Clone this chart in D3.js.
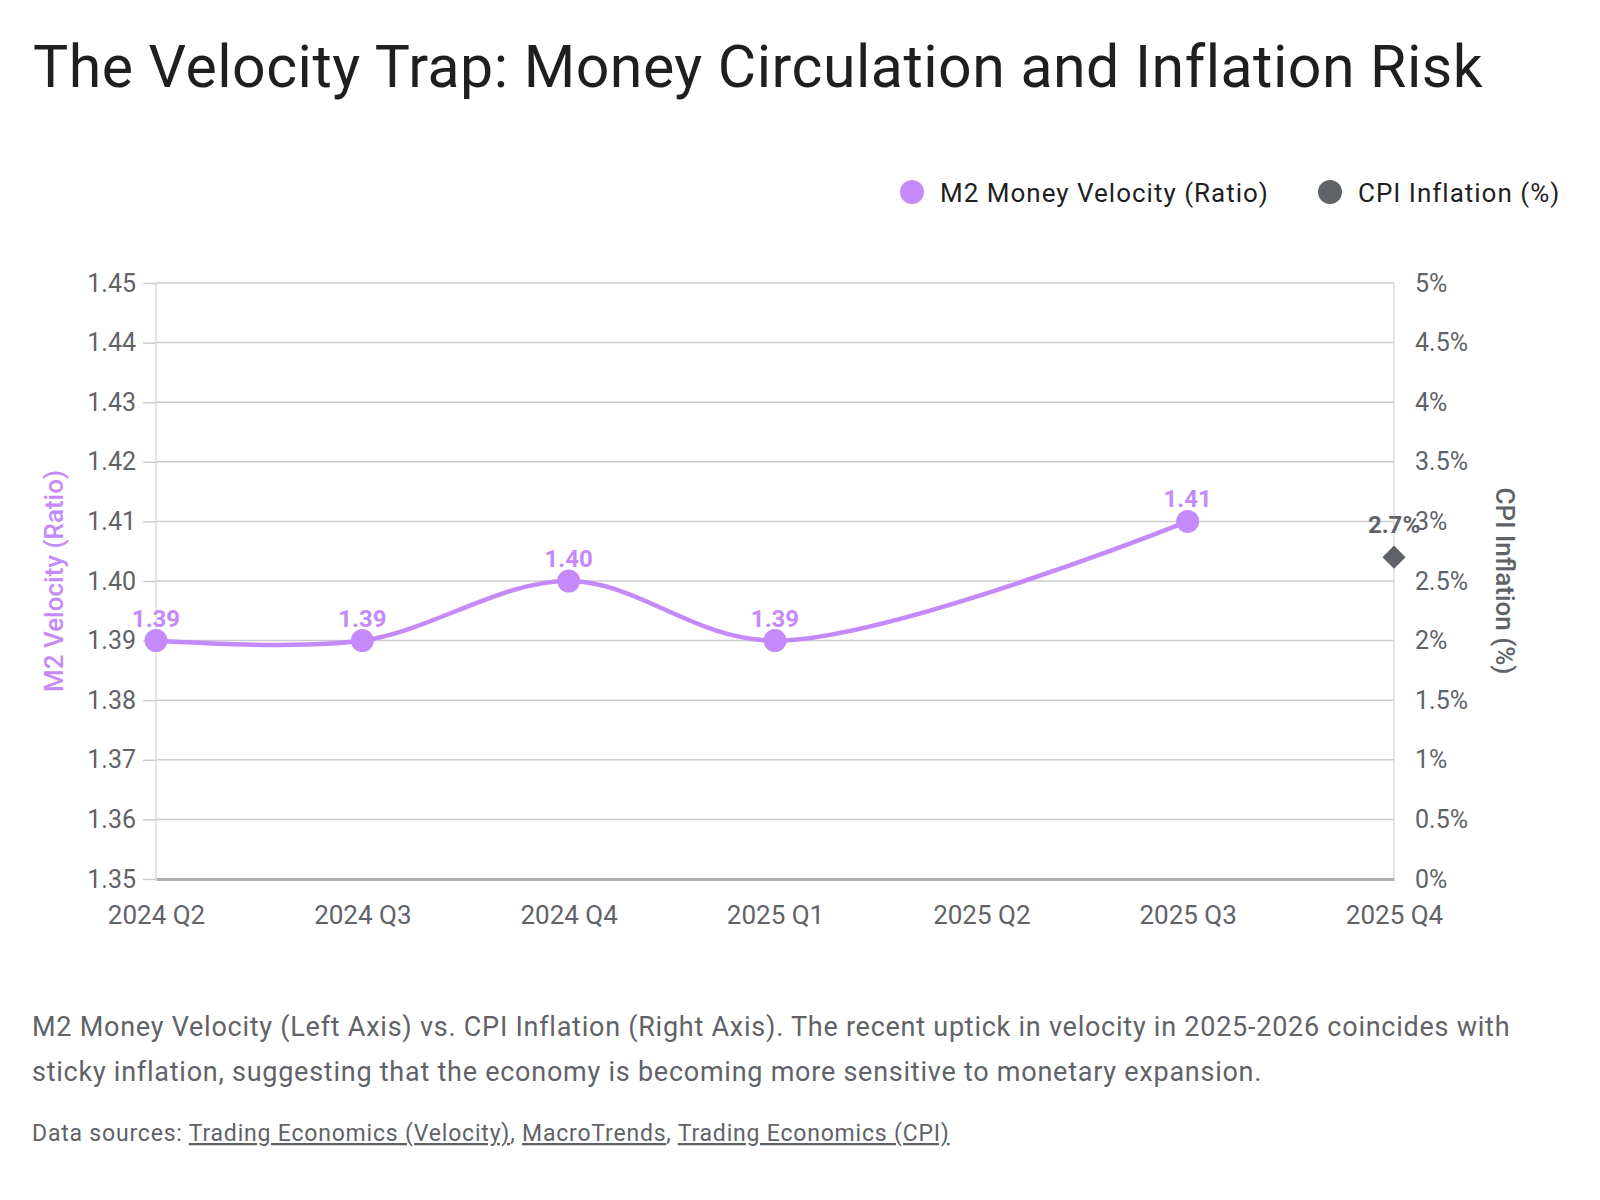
<!DOCTYPE html>
<html>
<head>
<meta charset="utf-8">
<script src="https://cdn.jsdelivr.net/npm/d3@7"></script>
<style>
  body { margin: 0; background: #fff; }
  text { font-family: Roboto, "Open Sans", sans-serif; }
</style>
</head>
<body>
<div id="chart"></div>
<script>
// data
const quarters = ["2024 Q2", "2024 Q3", "2024 Q4", "2025 Q1", "2025 Q2", "2025 Q3", "2025 Q4"];
const velocity = [1.39, 1.39, 1.40, 1.39, null, 1.41, null];
const cpi = [null, null, null, null, null, null, 2.7];
const leftTicks = [1.35, 1.36, 1.37, 1.38, 1.39, 1.40, 1.41, 1.42, 1.43, 1.44, 1.45];
const rightTicks = [0, 0.5, 1, 1.5, 2, 2.5, 3, 3.5, 4, 4.5, 5];

document.addEventListener('DOMContentLoaded', function() {
    const width = 1600, height = 1200;
    const plot = { left: 156, right: 1394, top: 283, bottom: 879 };
    const purple = "#c58af9", grey = "#5f6368";

    const svg = d3.select('#chart').append('svg')
        .attr('width', width)
        .attr('height', height);

    // title
    svg.append("text")
        .attr("x", 33)
        .attr("y", 87)
        .style("font-size", "59px")
        .style("letter-spacing", "0.5px")
        .style("fill", "#1f1f1f")
        .text("The Velocity Trap: Money Circulation and Inflation Risk");

    const x = d3.scalePoint().domain(quarters).range([plot.left, plot.right]);
    const yL = d3.scaleLinear().domain([1.35, 1.45]).range([plot.bottom, plot.top]);
    const yR = d3.scaleLinear().domain([0, 5]).range([plot.bottom, plot.top]);

    // gridlines
    svg.append("g").selectAll("line")
        .data(leftTicks.slice(1))
        .enter().append("line")
        .attr("x1", plot.left).attr("x2", plot.right)
        .attr("y1", d => yL(d)).attr("y2", d => yL(d))
        .attr("stroke", "#cccccc").attr("stroke-width", 1.5);

    // vertical edges
    [plot.left, plot.right].forEach(px => {
        svg.append("line")
            .attr("x1", px).attr("x2", px)
            .attr("y1", plot.top).attr("y2", plot.bottom)
            .attr("stroke", "#dddddd").attr("stroke-width", 1.5);
    });

    // left axis
    const leftAxis = svg.append("g")
        .attr("transform", `translate(${plot.left},0)`)
        .call(d3.axisLeft(yL).tickValues(leftTicks).tickFormat(d3.format(".2f")).tickSize(13).tickPadding(7));
    leftAxis.select(".domain").remove();
    leftAxis.selectAll(".tick line").attr("stroke", "#cccccc").attr("stroke-width", 1.5);
    leftAxis.selectAll(".tick text").style("font-size", "25px").style("fill", grey).style("font-family", "Roboto");

    // right axis
    const rightAxis = svg.append("g")
        .attr("transform", `translate(${plot.right},0)`)
        .call(d3.axisRight(yR).tickValues(rightTicks).tickFormat(d => d + "%").tickSize(0).tickPadding(21));
    rightAxis.select(".domain").remove();
    rightAxis.selectAll(".tick text").style("font-size", "25px").style("fill", grey).style("font-family", "Roboto");

    // bottom axis
    const bottomAxis = svg.append("g")
        .attr("transform", `translate(0,${plot.bottom})`)
        .call(d3.axisBottom(x).tickSize(0).tickPadding(27));
    bottomAxis.select(".domain").attr("stroke", "#b0b0b0").attr("stroke-width", 3);
    bottomAxis.selectAll(".tick text").style("font-size", "26px").style("fill", grey).style("font-family", "Roboto");

    // axis titles
    svg.append("text")
        .attr("transform", `translate(63,${(plot.top + plot.bottom) / 2}) rotate(-90)`)
        .attr("text-anchor", "middle")
        .style("font-size", "26px").style("font-weight", 500)
        .style("fill", purple)
        .text("M2 Velocity (Ratio)");
    svg.append("text")
        .attr("transform", `translate(1496,${(plot.top + plot.bottom) / 2}) rotate(90)`)
        .attr("text-anchor", "middle")
        .style("font-size", "26px").style("font-weight", 500)
        .style("fill", grey)
        .text("CPI Inflation (%)");

    // velocity line (gaps spanned)
    const vPoints = quarters.map((q, i) => ({ q: q, v: velocity[i] })).filter(d => d.v !== null);
    svg.append("path")
        .datum(vPoints)
        .attr("fill", "none")
        .attr("stroke", purple)
        .attr("stroke-width", 4.5)
        .attr("d", d3.line().x(d => x(d.q)).y(d => yL(d.v)).curve(d3.curveCatmullRom.alpha(0.5)));

    svg.selectAll(".vdot")
        .data(vPoints)
        .enter().append("circle")
        .attr("class", "vdot")
        .attr("cx", d => x(d.q))
        .attr("cy", d => yL(d.v))
        .attr("r", 11.5)
        .attr("fill", purple);

    svg.selectAll(".vlabel")
        .data(vPoints)
        .enter().append("text")
        .attr("class", "vlabel")
        .attr("x", d => x(d.q))
        .attr("y", d => yL(d.v) - 14)
        .attr("text-anchor", "middle")
        .style("font-size", "24px").style("font-weight", "bold")
        .style("fill", purple)
        .text(d => d.v.toFixed(2));

    // CPI point
    const cPoints = quarters.map((q, i) => ({ q: q, v: cpi[i] })).filter(d => d.v !== null);
    svg.selectAll(".cdot")
        .data(cPoints)
        .enter().append("path")
        .attr("class", "cdot")
        .attr("transform", d => `translate(${x(d.q)},${yR(d.v)})`)
        .attr("d", d3.symbol().type(d3.symbolDiamond2).size(340))
        .attr("fill", grey);
    svg.selectAll(".clabel")
        .data(cPoints)
        .enter().append("text")
        .attr("class", "clabel")
        .attr("x", d => x(d.q))
        .attr("y", d => yR(d.v) - 24)
        .attr("text-anchor", "middle")
        .style("font-size", "24px").style("font-weight", "bold")
        .style("fill", grey)
        .text(d => d.v + "%");

    // legend
    const legend = [
        { name: "M2 Money Velocity (Ratio)", color: purple, x: 912 },
        { name: "CPI Inflation (%)", color: grey, x: 1330 }
    ];
    const lg = svg.selectAll(".legend").data(legend).enter().append("g")
        .attr("transform", d => `translate(${d.x},192)`);
    lg.append("circle").attr("r", 12).attr("fill", d => d.color);
    lg.append("text")
        .attr("x", 28).attr("y", 10)
        .style("font-size", "26px").style("letter-spacing", "1px").style("fill", "#1f1f1f")
        .text(d => d.name);

    // caption
    const caption = svg.append("text")
        .attr("x", 32).attr("y", 1036)
        .style("font-size", "27px").style("letter-spacing", "0.75px").style("fill", grey);
    caption.append("tspan").attr("x", 32)
        .text("M2 Money Velocity (Left Axis) vs. CPI Inflation (Right Axis). The recent uptick in velocity in 2025-2026 coincides with");
    caption.append("tspan").attr("x", 32).attr("dy", 45)
        .text("sticky inflation, suggesting that the economy is becoming more sensitive to monetary expansion.");

    // sources
    const src = svg.append("text")
        .attr("x", 32).attr("y", 1141)
        .style("font-size", "23px").style("letter-spacing", "0.8px").style("fill", grey);
    src.append("tspan").text("Data sources: ");
    src.append("tspan").style("text-decoration", "underline").text("Trading Economics (Velocity)");
    src.append("tspan").text(", ");
    src.append("tspan").style("text-decoration", "underline").text("MacroTrends");
    src.append("tspan").text(", ");
    src.append("tspan").style("text-decoration", "underline").text("Trading Economics (CPI)");
});
</script>
</body>
</html>
